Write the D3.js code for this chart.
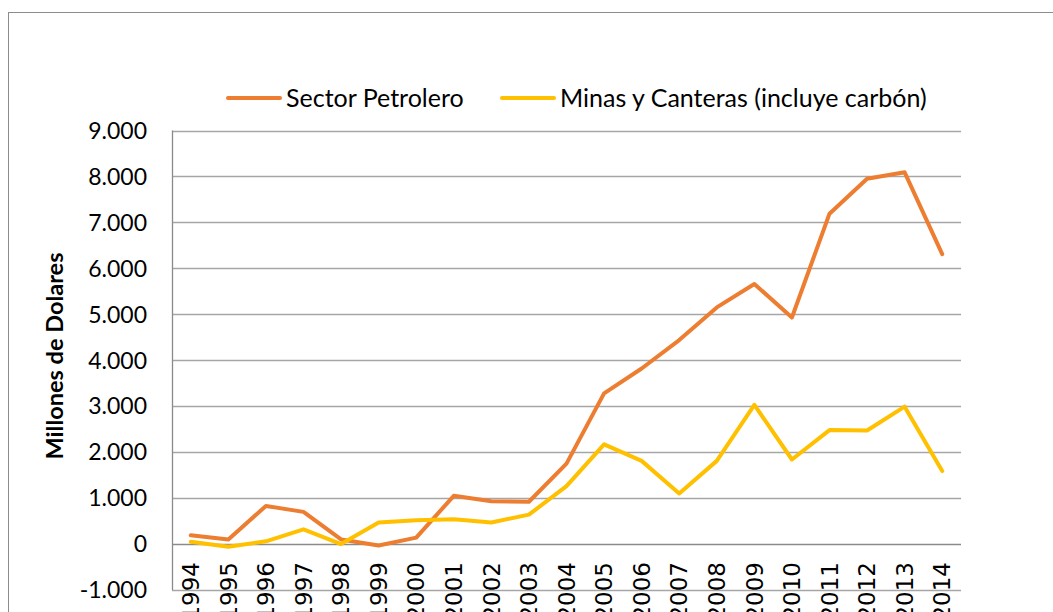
<!DOCTYPE html>
<html>
<head>
<meta charset="utf-8">
<script src="https://d3js.org/d3.v7.min.js"></script>
<style>
  body { margin: 0; background: #fff; }
  svg { display: block; }
</style>
</head>
<body>
<script>
// Years on the category axis
var years = ["1994","1995","1996","1997","1998","1999","2000","2001","2002","2003","2004",
             "2005","2006","2007","2008","2009","2010","2011","2012","2013","2014"];

// Series values (millones de dolares)
var petrolero = [190, 100, 830, 700, 100, -30, 140, 1050, 930, 920, 1750,
                 3280, 3820, 4440, 5150, 5660, 4930, 7190, 7950, 8090, 6310];
var minas = [50, -60, 60, 320, 0, 470, 520, 540, 470, 640, 1260,
             2170, 1810, 1100, 1810, 3030, 1840, 2480, 2470, 2990, 1590];

var yTicks = [-1000, 0, 1000, 2000, 3000, 4000, 5000, 6000, 7000, 8000, 9000];

var series = [
  {name: "Sector Petrolero", values: petrolero, color: "#ED7D31"},
  {name: "Minas y Canteras (incluye carbón)", values: minas, color: "#FFC000"}
];

var width = 1053;
var height = 612;
var plotLeft = 172, plotRight = 961, plotTop = 130.5, plotBottom = 590;

var svg = d3.select("body")
            .append("svg")
            .attr("width", width)
            .attr("height", height);

// outer chart border (runs off the page right and bottom)
svg.append("rect")
   .attr("x", 8.5).attr("y", 12.5)
   .attr("width", 1100).attr("height", 700)
   .attr("fill", "none")
   .attr("stroke", "#8c8c8c")
   .attr("stroke-width", 1);

var x = d3.scaleBand()
          .domain(years)
          .range([plotLeft, plotRight]);

var y = d3.scaleLinear()
          .domain([-1000, 9000])
          .range([plotBottom, plotTop]);

var locale = d3.formatLocale({decimal: ",", thousands: ".", grouping: [3], currency: ["", ""], minus: "-"});
var fmt = locale.format(",");

// gridlines
svg.append("g")
   .selectAll("line")
   .data(yTicks)
   .enter()
   .append("line")
   .attr("x1", plotLeft).attr("x2", plotRight)
   .attr("y1", d => Math.round(y(d)) + 0.5)
   .attr("y2", d => Math.round(y(d)) + 0.5)
   .attr("stroke", d => d === 0 ? "#8a8a8a" : "#a6a6a6")
   .attr("stroke-width", 1.3);

// vertical axis line
svg.append("line")
   .attr("x1", plotLeft + 0.5).attr("x2", plotLeft + 0.5)
   .attr("y1", y(9000)).attr("y2", y(-1000))
   .attr("stroke", "#8a8a8a")
   .attr("stroke-width", 1.3);

// y tick labels
svg.append("g")
   .selectAll("text")
   .data(yTicks)
   .enter()
   .append("text")
   .attr("x", 147)
   .attr("y", d => y(d))
   .attr("dy", "0.36em")
   .attr("text-anchor", "end")
   .style("font-family", "Lato, 'Open Sans', sans-serif")
   .style("font-size", "23px")
   .style("fill", "#000")
   .text(d => fmt(d));

// year labels, rotated
svg.append("g")
   .selectAll("text")
   .data(years)
   .enter()
   .append("text")
   .attr("transform", d => "translate(" + (x(d) + x.bandwidth() / 2) + ",562) rotate(-90)")
   .attr("dy", "0.36em")
   .attr("text-anchor", "end")
   .style("font-family", "'DejaVu Sans', sans-serif")
   .style("font-size", "23px")
   .style("fill", "#000")
   .text(d => d);

// y axis title
svg.append("text")
   .attr("transform", "translate(55,356) rotate(-90)")
   .attr("dy", "0.36em")
   .attr("text-anchor", "middle")
   .style("font-family", "Lato, 'Open Sans', sans-serif")
   .style("font-weight", "bold")
   .style("font-size", "23.5px")
   .style("fill", "#000")
   .text("Millones de Dolares");

// lines
var line = d3.line()
             .x((d, i) => x(years[i]) + x.bandwidth() / 2)
             .y(d => y(d));

svg.append("g")
   .selectAll("path")
   .data(series)
   .enter()
   .append("path")
   .attr("d", d => line(d.values))
   .attr("fill", "none")
   .attr("stroke", d => d.color)
   .attr("stroke-width", 4)
   .attr("stroke-linejoin", "round")
   .attr("stroke-linecap", "round");

// legend
var legendX = [228, 502];
var legend = svg.append("g")
                .selectAll("g")
                .data(series)
                .enter()
                .append("g")
                .attr("transform", (d, i) => "translate(" + legendX[i] + ",98)");

legend.append("line")
      .attr("x1", 0).attr("x2", 52)
      .attr("y1", 0).attr("y2", 0)
      .attr("stroke", d => d.color)
      .attr("stroke-width", 4)
      .attr("stroke-linecap", "round");

legend.append("text")
      .attr("x", 58)
      .attr("dy", "0.36em")
      .style("font-family", "Lato, 'Open Sans', sans-serif")
      .style("font-size", "25px")
      .style("fill", "#000")
      .text(d => d.name);
</script>
</body>
</html>
